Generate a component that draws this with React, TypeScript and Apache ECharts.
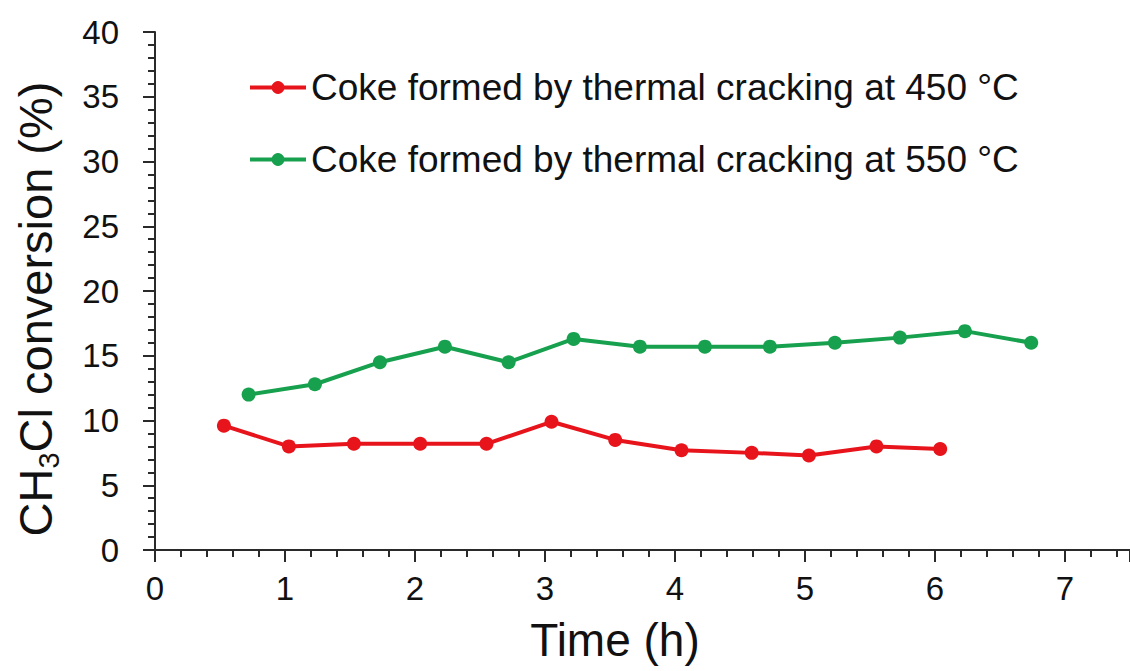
import React, { useEffect, useRef } from "react";
import * as echarts from "echarts";

const seriesNames = [
  "Coke formed by thermal cracking at 450 °C",
  "Coke formed by thermal cracking at 550 °C",
];
const redX = [0.53, 1.03, 1.53, 2.04, 2.55, 3.05, 3.54, 4.05, 4.59, 5.03, 5.55, 6.04];
const redY = [9.6, 8.0, 8.2, 8.2, 8.2, 9.9, 8.5, 7.7, 7.5, 7.3, 8.0, 7.8];
const greenX = [0.72, 1.23, 1.73, 2.23, 2.72, 3.22, 3.73, 4.23, 4.73, 5.23, 5.73, 6.23, 6.74];
const greenY = [12.0, 12.8, 14.5, 15.7, 14.5, 16.3, 15.7, 15.7, 15.7, 16.0, 16.4, 16.9, 16.0];
const xName = "Time (h)";
const yNameRich = "{a|CH}{s|3}{a|Cl conversion (%)}";

const FONT = "'Liberation Sans', Arial, sans-serif";
const RED = "#e8141c";
const GREEN = "#17a04e";
const AXIS = "#2a2a2a";

export default function App() {
  const ref = useRef<HTMLDivElement>(null);
  useEffect(() => {
    if (!ref.current) return;
    const chart = echarts.init(ref.current, undefined, { renderer: "svg" });
    const zip = (xs: number[], ys: number[]) => xs.map((x, i) => [x, ys[i]]);
    chart.setOption({
      animation: false,
      backgroundColor: "#ffffff",
      textStyle: { fontFamily: FONT },
      grid: { left: 155, top: 32, bottom: 121, right: -3 },
      legend: {
        orient: "vertical",
        left: 243,
        top: 64,
        itemGap: 35,
        itemWidth: 56,
        itemHeight: 16,
        lineStyle: { width: 4 },
        textStyle: { fontSize: 37, color: "#111", fontFamily: FONT },
        data: seriesNames,
      },
      xAxis: {
        type: "value",
        min: 0,
        max: 7.5,
        interval: 1,
        axisLine: { lineStyle: { color: AXIS, width: 2 } },
        axisTick: { show: true, length: 12, lineStyle: { color: AXIS, width: 2 } },
        minorTick: { show: true, splitNumber: 5, length: 7, lineStyle: { color: AXIS, width: 2 } },
        splitLine: { show: false },
        axisLabel: { fontSize: 33, color: "#111", margin: 22, showMaxLabel: false, fontFamily: FONT },
      },
      yAxis: {
        type: "value",
        min: 0,
        max: 40,
        interval: 5,
        axisLine: { show: true, lineStyle: { color: AXIS, width: 2 } },
        axisTick: { show: true, length: 12, lineStyle: { color: AXIS, width: 2 } },
        minorTick: { show: true, splitNumber: 5, length: 7, lineStyle: { color: AXIS, width: 2 } },
        splitLine: { show: false },
        axisLabel: { fontSize: 33, color: "#111", margin: 36, fontFamily: FONT },
      },
      graphic: [
        {
          type: "text",
          x: 35,
          y: 309,
          rotation: Math.PI / 2,
          style: {
            text: yNameRich,
            align: "center",
            verticalAlign: "middle",
            fill: "#111",
            rich: {
              a: { fontSize: 47, lineHeight: 56, fontFamily: FONT, fill: "#111" },
              s: { fontSize: 29, lineHeight: 20, verticalAlign: "bottom", fontFamily: FONT, fill: "#111" },
            },
          },
        },
        {
          type: "text",
          x: 615,
          y: 640,
          style: {
            text: xName,
            align: "center",
            verticalAlign: "middle",
            fontSize: 46,
            fontFamily: FONT,
            fill: "#111",
          },
        },
      ],
      series: [
        {
          name: seriesNames[0],
          type: "line",
          data: zip(redX, redY),
          symbol: "circle",
          symbolSize: 14,
          itemStyle: { color: RED },
          lineStyle: { color: RED, width: 4 },
        },
        {
          name: seriesNames[1],
          type: "line",
          data: zip(greenX, greenY),
          symbol: "circle",
          symbolSize: 14,
          itemStyle: { color: GREEN },
          lineStyle: { color: GREEN, width: 4 },
        },
      ],
    });
    return () => chart.dispose();
  }, []);
  return <div ref={ref} style={{ width: 1130, height: 671, position: "absolute", left: 0, top: 0 }} />;
}
